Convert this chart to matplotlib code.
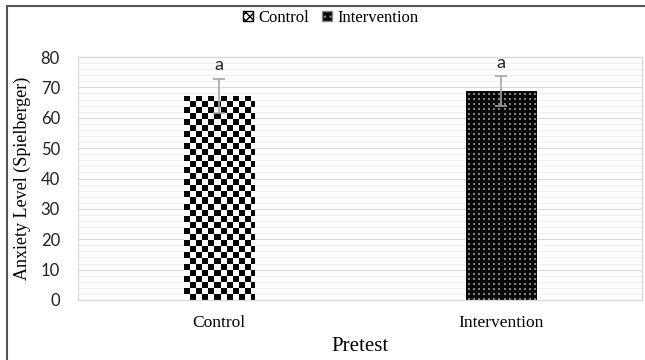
import numpy as np
import matplotlib
matplotlib.use("Agg")
import matplotlib.pyplot as plt
from matplotlib.patches import Patch
from matplotlib.lines import Line2D

# data
groups = ["Control", "Intervention"]
means = [67.3, 68.8]
errors = [5.6, 4.8]
sig_labels = ["a", "a"]
x_title = "Pretest"
y_title = "Anxiety Level (Spielberger)"

W, H = 645, 360
fig = plt.figure(figsize=(W / 100, H / 100), dpi=100)
ax = fig.add_axes([78 / W, 1 - 300 / H, 564 / W, 243 / H])

ax.set_xlim(-0.5, 1.5)
ax.set_ylim(0, 80)
ax.set_yticks(np.arange(0, 81, 10))
ax.set_yticks(np.arange(0, 81, 2), minor=True)
ax.grid(axis="y", which="major", color="#d9d9d9", lw=0.9, zorder=0)
ax.grid(axis="y", which="minor", color="#f0f0f0", lw=0.8, zorder=0)
ax.set_axisbelow(True)
for s in ax.spines.values():
    s.set_color("#d9d9d9")
    s.set_linewidth(0.9)
ax.tick_params(which="both", length=0)
ax.tick_params(axis="y", pad=13, labelsize=12, labelcolor="#222222")
ax.tick_params(axis="x", pad=11)
for lab in ax.get_yticklabels():
    lab.set_family("Lato")

xpos = np.arange(len(groups))
bars = ax.bar(xpos, means, width=0.25, color="none", edgecolor="none", zorder=2)
ax.set_xticks(xpos)
ax.set_xticklabels(groups, family="Liberation Serif", fontsize=12.5)


def checker(h, w):
    i, j = np.mgrid[0:h, 0:w]
    return (((i // 6) + (j // 6)) % 2).astype(float)


def dots(h, w):
    i, j = np.mgrid[0:h, 0:w]
    d = ((i % 5) >= 2) & ((i % 5) <= 3) & ((j % 5) >= 2) & ((j % 5) <= 3)
    return np.where(d, 0.5, 0.03)


patterns = [checker, dots]
for b, pat in zip(bars, patterns):
    x0, y0 = b.get_x(), b.get_y()
    x1, y1 = x0 + b.get_width(), y0 + b.get_height()
    p0 = ax.transData.transform((x0, y0))
    p1 = ax.transData.transform((x1, y1))
    w_px = int(round(abs(p1[0] - p0[0])))
    h_px = int(round(abs(p1[1] - p0[1])))
    img = pat(h_px, w_px)
    im = ax.imshow(img, cmap="gray", vmin=0, vmax=1, extent=(x0, x1, y0, y1),
                   origin="upper", interpolation="nearest", aspect="auto", zorder=2)
    im.set_clip_path(b)

ax.set_xlim(-0.5, 1.5)
ax.set_ylim(0, 80)

ax.errorbar(xpos, means, yerr=errors, fmt="none", ecolor="#a6a6a6",
            elinewidth=1.2, capsize=4, capthick=1.2, zorder=3)
for x, m, e, t in zip(xpos, means, errors, sig_labels):
    ax.text(x, m + e + 1.8, t, ha="center", va="bottom", fontsize=13,
            family="Lato", color="#222222")

ax.set_ylabel(y_title, family="Liberation Serif", fontsize=13, labelpad=7)
ax.set_xlabel(x_title, family="Liberation Serif", fontsize=15, labelpad=4)

# legend at the top
handles = [Patch(facecolor="white", edgecolor="black", hatch="xxxx"),
           Patch(facecolor="black", edgecolor="#888888", hatch="...")]
leg = fig.legend(handles, groups, loc="center", bbox_to_anchor=(331 / W, 1 - 18 / H),
                 ncol=2, frameon=False, prop={"family": "Liberation Serif", "size": 12},
                 handlelength=0.6, handleheight=0.6, handletextpad=0.3, columnspacing=0.8)

# outer frame (left and top edges visible)
fig.add_artist(Line2D([7 / W, 7 / W], [0, 1 - 6 / H], transform=fig.transFigure,
                      color="#555555", lw=1.5))
fig.add_artist(Line2D([7 / W, 1], [1 - 6 / H, 1 - 6 / H], transform=fig.transFigure,
                      color="#555555", lw=1.5))

fig.savefig("out.png", dpi=100)
